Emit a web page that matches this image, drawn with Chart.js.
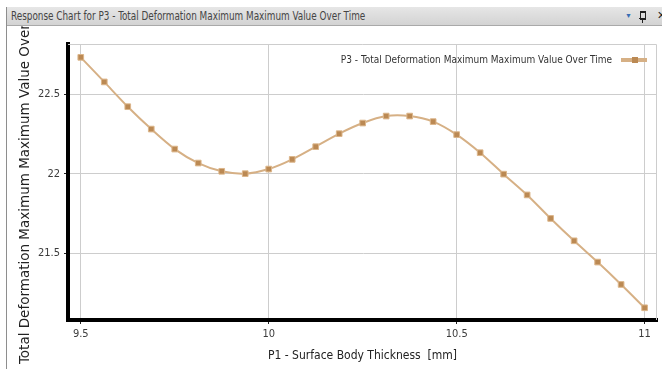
<!DOCTYPE html>
<html>
<head>
<meta charset="utf-8">
<script src="https://cdn.jsdelivr.net/npm/chart.js@4/dist/chart.umd.min.js"></script>
<style>
html, body { margin: 0; padding: 0; background: #fff; overflow: hidden; }
#wrap { position: relative; width: 662px; height: 369px; }
#bar {
    position: absolute; left: 6px; top: 7px; right: 0; height: 19px;
    background: linear-gradient(#e6e6e6, #d3d3d3);
    border-bottom: 1px solid #a9a9a9; box-sizing: border-box;
    z-index: 2; white-space: nowrap; overflow: hidden;
}
#bar_text {
    position: absolute; left: 5px; top: 0;
    font: 12px "DejaVu Sans Condensed", sans-serif; color: #454545; line-height: 18px;
    transform: scaleX(0.82); transform-origin: left center;
}
#edge { position: absolute; left: 6px; top: 7px; bottom: 0; width: 1px; background: #8e8e8e; z-index: 2; }
#drop { position: absolute; left: 619px; top: 6px; font-size: 7px; color: #3a6db4; line-height: 7px; }
#pin { position: absolute; left: 634px; top: 4px; width: 4px; height: 6px; border: 1px solid #222; border-top-width: 2px; }
#pin2 { position: absolute; left: 636px; top: 11px; width: 1px; height: 5px; background: #222; }
#pin3 { position: absolute; left: 633px; top: 11px; width: 7px; height: 1px; background: #222; }
#close { position: absolute; left: 651px; top: 0px; font: 11px "DejaVu Sans"; color: #222; line-height: 18px; }
canvas { position: absolute; left: 0; top: 26px; }
</style>
</head>
<body>
<div id="wrap">
    <canvas id="response_chart" width="662" height="343"></canvas>
    <div id="bar">
        <span id="bar_text">Response Chart for P3 - Total Deformation Maximum Maximum Value Over Time</span>
        <span id="drop">&#9660;</span><span id="pin"></span><span id="pin2"></span><span id="pin3"></span><span id="close">&#10005;</span>
    </div>
    <div id="edge"></div>
</div>
<script>
const series_label = 'P3 - Total Deformation Maximum Maximum Value Over Time';
const x_title = 'P1 - Surface Body Thickness  [mm]';

// P1 thickness [mm]
const thickness = [9.5, 9.5625, 9.625, 9.6875, 9.75, 9.8125, 9.875, 9.9375, 10.0,
    10.0625, 10.125, 10.1875, 10.25, 10.3125, 10.375, 10.4375, 10.5,
    10.5625, 10.625, 10.6875, 10.75, 10.8125, 10.875, 10.9375, 11.0];

// P3 total deformation maximum
const deformation = [22.733, 22.578, 22.422, 22.281, 22.155, 22.067, 22.015, 22.000, 22.029,
    22.090, 22.170, 22.252, 22.319, 22.363, 22.363, 22.328, 22.246,
    22.132, 21.997, 21.866, 21.718, 21.577, 21.443, 21.302, 21.155];

const x_ticks = [9.5, 10, 10.5, 11];
const y_ticks = [21.5, 22, 22.5];

const line_color = '#d6b085';
const marker_color = '#bb8953';

// light frame on top and right of the plot
const frame_plugin = {
    id: 'frame',
    beforeDatasetsDraw(chart) {
        const a = chart.chartArea;
        const ctx = chart.ctx;
        ctx.save();
        ctx.strokeStyle = '#cdcdcd';
        ctx.lineWidth = 1;
        ctx.beginPath();
        ctx.moveTo(a.left, a.top + 0.5);
        ctx.lineTo(a.right - 0.5, a.top + 0.5);
        ctx.lineTo(a.right - 0.5, a.bottom);
        ctx.stroke();
        ctx.restore();
    }
};

// legend inside the plot, top right: text then line symbol
const inside_legend = {
    id: 'inside_legend',
    afterDatasetsDraw(chart) {
        const a = chart.chartArea;
        const ctx = chart.ctx;
        const ds = chart.data.datasets[0];
        const sym_right = a.right - 10;
        const sym_left = sym_right - 26;
        const cy = a.top + 16;
        ctx.save();
        ctx.fillStyle = ds.borderColor;
        ctx.fillRect(sym_left, cy - 2, 26, 4);
        ctx.fillStyle = ds.pointBackgroundColor;
        ctx.fillRect(sym_left + 11, cy - 3, 6, 6);
        ctx.font = '10px "DejaVu Sans Condensed"';
        ctx.fillStyle = '#333';
        ctx.textAlign = 'right';
        ctx.textBaseline = 'middle';
        ctx.fillText(ds.label, sym_left - 9, cy);
        ctx.restore();
    }
};

const response_chart = new Chart(document.getElementById('response_chart'), {
    type: 'line',
    data: {
        datasets: [{
            label: series_label,
            data: thickness.map((x, i) => ({ x: x, y: deformation[i] })),
            borderColor: line_color,
            borderWidth: 2,
            tension: 0.3,
            pointStyle: 'rect',
            pointRadius: 4,
            pointBackgroundColor: marker_color,
            pointBorderColor: '#dcb68b',
            pointBorderWidth: 1
        }]
    },
    options: {
        responsive: false,
        animation: false,
        layout: {
            padding: { top: 18, right: 4, left: 0, bottom: 0 }
        },
        scales: {
            x: {
                type: 'linear',
                min: 9.466,
                max: 11.033,
                afterBuildTicks: (scale) => {
                    scale.ticks = x_ticks.map(v => ({ value: v }));
                },
                afterFit: (scale) => {
                    scale.height = 49;
                },
                grid: { color: '#cdcdcd', tickLength: 4, tickColor: '#222' },
                border: { color: '#000', width: 4 },
                ticks: {
                    color: '#3c3c3c',
                    font: { family: 'DejaVu Sans Condensed', size: 11 },
                    padding: 4,
                    callback: (v) => String(v)
                },
                title: {
                    display: true,
                    text: x_title,
                    color: '#222',
                    font: { family: 'DejaVu Sans Condensed', size: 12 },
                    padding: { top: 0, bottom: 6 }
                }
            },
            y: {
                type: 'linear',
                min: 21.078,
                max: 22.817,
                afterBuildTicks: (scale) => {
                    scale.ticks = y_ticks.map(v => ({ value: v }));
                },
                afterFit: (scale) => {
                    scale.width = 68;
                },
                grid: { color: '#cdcdcd', tickLength: 4, tickColor: '#222' },
                border: { color: '#000', width: 4 },
                ticks: {
                    color: '#3c3c3c',
                    font: { family: 'DejaVu Sans Condensed', size: 11 },
                    padding: 4,
                    callback: (v) => String(v)
                },
                title: {
                    display: true,
                    // trailing spaces push the label centre down like the original
                    text: series_label + '    ',
                    color: '#222',
                    font: { family: 'DejaVu Sans', size: 13.5 },
                    padding: { top: 17, bottom: 0 }
                }
            }
        },
        plugins: {
            legend: { display: false },
            tooltip: { enabled: false }
        }
    },
    plugins: [frame_plugin, inside_legend]
});
</script>
</body>
</html>
